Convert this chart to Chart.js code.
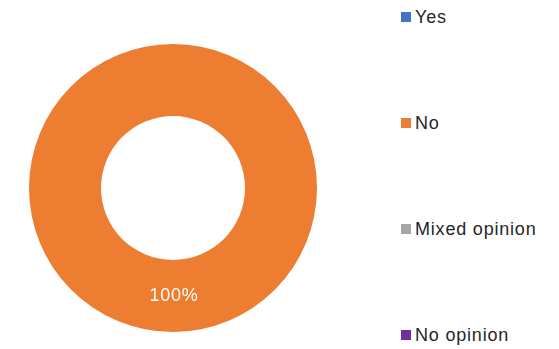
<!DOCTYPE html>
<html>
<head>
<meta charset="utf-8">
<script src="https://cdn.jsdelivr.net/npm/chart.js@4"></script>
<style>
  html, body { margin: 0; padding: 0; background: #fff; }
  #wrap { position: relative; width: 559px; height: 349px; overflow: hidden; }
  #pie { position: absolute; left: 29px; top: 44px; width: 288px; height: 288px; }
  #legend { position: absolute; left: 401px; top: 0; }
  .item { position: absolute; left: 0; height: 20px; display: flex; align-items: center; white-space: nowrap;
          font-family: "Liberation Sans", Arial, sans-serif; font-size: 18px; letter-spacing: 0.8px; color: #262626; }
  .box { width: 10px; height: 10px; margin-right: 4px; flex: none; }
</style>
</head>
<body>
<div id="wrap">
  <div id="pie"><canvas id="chart"></canvas></div>
  <div id="legend"></div>
</div>
<script>
const labels = ['Yes', 'No', 'Mixed opinion', 'No opinion'];
const values = [0, 100, 0, 0];
const colors = ['#4472C4', '#ED7D31', '#A5A5A5', '#7030A0'];

document.addEventListener('DOMContentLoaded', () => {
    // legend, spaced down the right side
    const leg = document.getElementById('legend');
    labels.forEach((l, i) => {
        const d = document.createElement('div');
        d.className = 'item';
        d.style.top = (7 + i * 106) + 'px';
        d.innerHTML = '<span class="box" style="background:' + colors[i] + '"></span><span>' + l + '</span>';
        leg.appendChild(d);
    });

    const pctLabels = {
        id: 'pctLabels',
        afterDatasetsDraw(chart) {
            const ctx = chart.ctx;
            const total = values.reduce((a, b) => a + b, 0);
            chart.getDatasetMeta(0).data.forEach((arc, i) => {
                if (!values[i]) return;
                const p = arc.tooltipPosition();
                ctx.save();
                ctx.fillStyle = '#fff';
                ctx.font = '18px "Liberation Sans", Arial, sans-serif';
                ctx.letterSpacing = '0.8px';
                ctx.textAlign = 'center';
                ctx.textBaseline = 'middle';
                ctx.fillText(Math.round(values[i] / total * 100) + '%', p.x + 1, p.y);
                ctx.restore();
            });
        }
    };

    new Chart(document.getElementById('chart').getContext('2d'), {
        type: 'doughnut',
        data: { labels: labels, datasets: [{ data: values, backgroundColor: colors, borderWidth: 0 }] },
        options: {
            responsive: true,
            maintainAspectRatio: false,
            animation: false,
            cutout: '50%',
            layout: { padding: 0 },
            plugins: { legend: { display: false }, tooltip: { enabled: false } }
        },
        plugins: [pctLabels]
    });
});
</script>
</body>
</html>
